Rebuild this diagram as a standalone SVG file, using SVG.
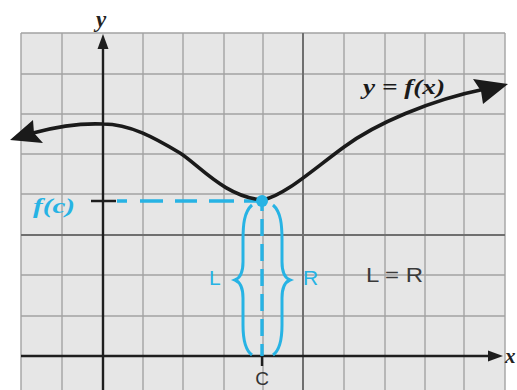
<svg xmlns="http://www.w3.org/2000/svg" width="517" height="390" viewBox="0 0 517 390">
  <style>
    .minor { stroke: #a3a3a3; stroke-width: 1.4; fill: none; }
    .major { stroke: #6f6f6f; stroke-width: 2; fill: none; }
    .axis { stroke: #1e1e1e; stroke-width: 2.4; fill: none; }
    .curve { stroke: #1a1a1a; stroke-width: 3.6; fill: none; stroke-linecap: round; }
    .cyan { stroke: #27b3e4; fill: none; }
    .math { font-family: "Liberation Serif", "Times New Roman", serif; font-style: italic; font-weight: bold; }
    .sans { font-family: "Liberation Sans", Arial, sans-serif; }
  </style>
  <rect width="517" height="390" fill="#ffffff"/>
  <g id="grid">
    <rect x="21" y="33" width="484" height="357" fill="#e6e6e6"/>
    <path class="minor" d="M21,33 V390 M62,33 V390 M143,33 V390 M183,33 V390 M224,33 V390 M263,33 V390 M344,33 V390 M385,33 V390 M425,33 V390 M464,33 V390 M505,33 V390"/>
    <path class="minor" d="M21,33 H505 M21,74 H505 M21,114 H505 M21,154 H505 M21,194 H505 M21,275 H505 M21,316 H505"/>
    <path class="major" d="M303,33 V390 M21,235 H505"/>
  </g>
  <g id="axes">
    <path class="axis" d="M103,390 V46 M21,356 H490"/>
    <polygon points="103,34 97.5,49 108.5,49" fill="#1e1e1e"/>
    <polygon points="503,356 488,350.5 488,361.5" fill="#1e1e1e"/>
    <text class="math" x="96" y="27" font-size="23" fill="#222">y</text>
    <text class="math" x="505" y="363" font-size="21" fill="#222">x</text>
  </g>
  <g id="connectors">
    <path class="cyan" stroke-width="3.4" d="M117,201 H264" stroke-dasharray="10 13 23 12 22 12 25 10 20"/>
    <path class="cyan" stroke-width="3.4" d="M262,201 V356" stroke-dasharray="10 8 17 8 17 8 17 8 17 8 17 8 30"/>
    <path class="axis" stroke-width="2" d="M91,201 H116 M262,356 V366"/>
  </g>
  <g id="curve">
    <path class="curve" d="M33,133 C55,127 80,123 103,124 C130,124 155,138 180,153 C200,166 225,197 263,200 C285,195 310,172 344,147 C375,124 430,100 485,89"/>
    <polygon points="10,140 33,120 34,133 43,143" fill="#1a1a1a"/>
    <polygon points="508,84 473,79 481,91 483,104" fill="#1a1a1a"/>
    <text class="math" x="363" y="94" font-size="21" fill="#1a1a1a" textLength="82" lengthAdjust="spacingAndGlyphs">y = f(x)</text>
  </g>
  <g id="point-c">
    <circle cx="262" cy="201" r="6" fill="#27b3e4"/>
    <text class="math" x="33" y="213" font-size="21" fill="#27b3e4" textLength="42" lengthAdjust="spacingAndGlyphs">f(c)</text>
    <text class="sans" x="262" y="385" font-size="19" fill="#333" text-anchor="middle">C</text>
  </g>
  <g id="brace-left">
    <path class="cyan" stroke-width="3" d="M252,205 C244,212 243,225 243,240 L243,262 C243,272 240,278 235,280 C240,282 243,288 243,298 L243,325 C243,340 245,350 252,355"/>
    <text class="sans" x="209" y="285" font-size="21" fill="#27b3e4">L</text>
  </g>
  <g id="brace-right">
    <path class="cyan" stroke-width="3" d="M273,205 C281,212 282,225 282,240 L282,262 C282,272 285,278 290,280 C285,282 282,288 282,298 L282,325 C282,340 280,350 273,355"/>
    <text class="sans" x="303" y="285" font-size="21" fill="#27b3e4">R</text>
  </g>
  <g id="equation">
    <text class="sans" x="366" y="282" font-size="21" fill="#3a3a3a" textLength="57" lengthAdjust="spacingAndGlyphs">L = R</text>
  </g>
</svg>
